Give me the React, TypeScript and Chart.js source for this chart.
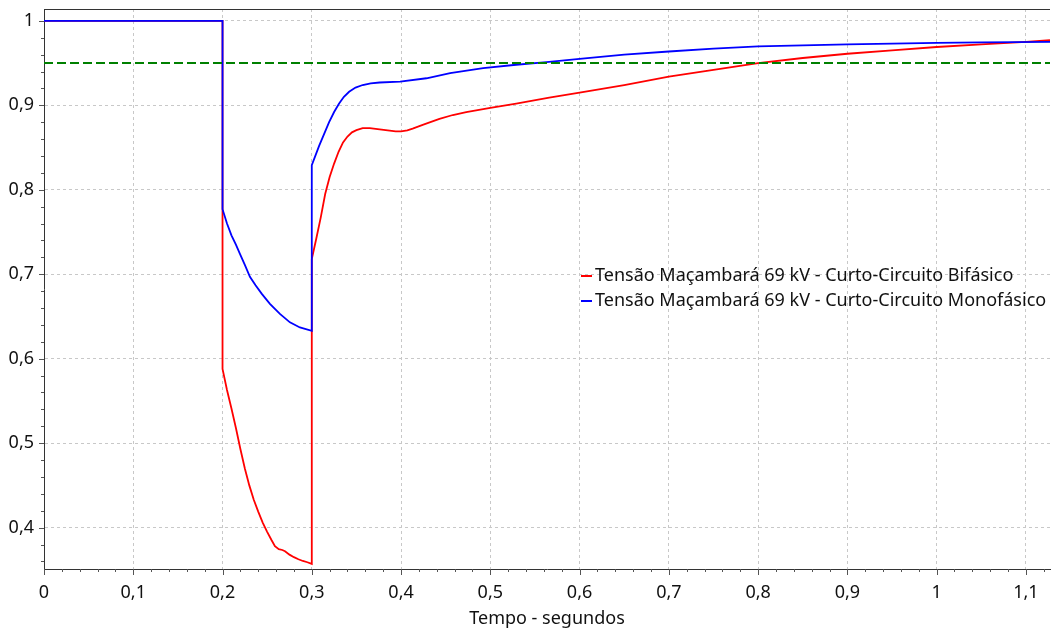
import React, { useEffect, useRef } from "react";
import { Chart, registerables } from "chart.js";

Chart.register(...registerables);

// ---------- data ----------
const bifasicoTime = [
  0, 0.2, 0.2, 0.2, 0.205, 0.21, 0.215, 0.22, 0.225, 0.23, 0.235, 0.24, 0.245, 0.25,
  0.255, 0.2587, 0.263, 0.267, 0.27, 0.275, 0.28, 0.285, 0.29, 0.295, 0.3,
  0.3, 0.305, 0.31, 0.315, 0.32, 0.325, 0.33, 0.335, 0.34, 0.345, 0.35, 0.357, 0.365,
  0.376, 0.385, 0.394, 0.4, 0.407, 0.413, 0.425, 0.443, 0.458, 0.473, 0.5, 0.529, 0.566, 0.6, 0.65,
  0.7, 0.75, 0.8, 0.85, 0.9, 0.95, 1.0, 1.05, 1.1, 1.127,
];
const bifasicoVolt = [
  1.0, 1.0, 0.78, 0.588, 0.563, 0.541, 0.518, 0.493, 0.47, 0.45, 0.433, 0.419, 0.406, 0.395,
  0.385, 0.378, 0.3745, 0.3735, 0.372, 0.368, 0.365, 0.3625, 0.3605, 0.359, 0.357,
  0.718, 0.742, 0.767, 0.795, 0.815, 0.831, 0.845, 0.856, 0.863, 0.868, 0.8705, 0.873, 0.873,
  0.8715, 0.8703, 0.869, 0.869, 0.8703, 0.8724, 0.877, 0.884, 0.8885, 0.892, 0.897, 0.902, 0.909, 0.915, 0.924,
  0.934, 0.942, 0.95, 0.956, 0.961, 0.965, 0.969, 0.972, 0.975, 0.977,
];

const monofasicoTime = [
  0, 0.2, 0.2, 0.205, 0.21, 0.215, 0.2195, 0.225, 0.2307, 0.237, 0.2438, 0.2531, 0.2643,
  0.2755, 0.2867, 0.3, 0.3, 0.3082, 0.3194, 0.325, 0.3306, 0.336, 0.3418, 0.349, 0.357, 0.366,
  0.376, 0.399, 0.4285, 0.455, 0.492, 0.529, 0.563, 0.6, 0.65, 0.7, 0.75, 0.8, 0.85, 0.9,
  0.95, 1.0, 1.05, 1.127,
];
const monofasicoVolt = [
  1.0, 1.0, 0.777, 0.76, 0.746, 0.735, 0.724, 0.711, 0.697, 0.687, 0.677, 0.665, 0.653,
  0.643, 0.637, 0.633, 0.829, 0.852, 0.88, 0.892, 0.902, 0.91, 0.916, 0.921, 0.924, 0.926,
  0.927, 0.928, 0.932, 0.938, 0.944, 0.948, 0.951, 0.955, 0.96, 0.9637, 0.967, 0.9697, 0.971, 0.972,
  0.973, 0.974, 0.9745, 0.975,
];

const limitTime = [0, 1.127];
const limitVolt = [0.95, 0.95];

const seriesLabels = [
  "Tensão Maçambará 69 kV - Curto-Circuito Bifásico",
  "Tensão Maçambará 69 kV - Curto-Circuito Monofásico",
];
const seriesColors = ["#ff0000", "#0000ff"];
const limitColor = "#008000";
const xTitle = "Tempo - segundos";

const xMin = 0;
const xMax = 1.127;
const yMin = 0.351;
const yMax = 1.014;
const minorStep = 0.02;

const FONT = "'Noto Sans', 'Open Sans', sans-serif";
const FONT_SIZE = 18;

// ---------- helpers ----------
const isMajor = (v: number) => Math.abs(v * 10 - Math.round(v * 10)) < 1e-6;
const fmt = (v: number) => String(Math.round(v * 10) / 10).replace(".", ",");
const toPoints = (xs: number[], ys: number[]) => xs.map((x, i) => ({ x, y: ys[i] }));

const buildMinorTicks = (scale: any) => {
  const ticks: { value: number }[] = [];
  const start = Math.ceil(scale.min / minorStep - 1e-9);
  for (let i = start; i * minorStep <= scale.max + 1e-9; i++) {
    ticks.push({ value: Math.round(i * minorStep * 10000) / 10000 });
  }
  scale.ticks = ticks;
};

const gridColor = (ctx: any) =>
  ctx.tick && isMajor(ctx.tick.value) ? "#c8c8c8" : "rgba(0,0,0,0)";

const decorPlugin = {
  id: "decor",
  afterDraw(chart: any) {
    const { ctx, chartArea } = chart;
    const xs = chart.scales.x;
    const ys = chart.scales.y;
    ctx.save();
    ctx.strokeStyle = "#333333";
    ctx.lineWidth = 1;
    // top frame line
    ctx.beginPath();
    ctx.moveTo(chartArea.left, chartArea.top + 0.5);
    ctx.lineTo(chartArea.right, chartArea.top + 0.5);
    ctx.stroke();
    // tick marks
    ctx.strokeStyle = "#555555";
    xs.ticks.forEach((t: any) => {
      const p = Math.round(xs.getPixelForValue(t.value)) + 0.5;
      const len = isMajor(t.value) ? 6 : 3;
      ctx.beginPath();
      ctx.moveTo(p, chartArea.bottom);
      ctx.lineTo(p, chartArea.bottom + len);
      ctx.stroke();
    });
    ys.ticks.forEach((t: any) => {
      const p = Math.round(ys.getPixelForValue(t.value)) + 0.5;
      const len = isMajor(t.value) ? 5 : 3;
      ctx.beginPath();
      ctx.moveTo(chartArea.left - len, p);
      ctx.lineTo(chartArea.left, p);
      ctx.stroke();
    });
    // legend
    const lx = chartArea.left + 537;
    const ly = chartArea.top + 267;
    ctx.font = `${FONT_SIZE}px ${FONT}`;
    ctx.textBaseline = "middle";
    ctx.textAlign = "left";
    seriesLabels.forEach((label, i) => {
      const y = ly + i * 25;
      ctx.strokeStyle = seriesColors[i];
      ctx.lineWidth = 2;
      ctx.beginPath();
      ctx.moveTo(lx, y);
      ctx.lineTo(lx + 11, y);
      ctx.stroke();
      ctx.fillStyle = "#111111";
      ctx.fillText(label, lx + 14, y);
    });
    ctx.restore();
  },
};

export default function App() {
  const canvasRef = useRef<HTMLCanvasElement | null>(null);

  useEffect(() => {
    if (!canvasRef.current) return;
    const chart = new Chart(canvasRef.current, {
      type: "line",
      data: {
        datasets: [
          {
            label: "Limite",
            data: toPoints(limitTime, limitVolt),
            borderColor: limitColor,
            borderWidth: 2,
            borderDash: [9, 4],
            pointRadius: 0,
            tension: 0,
          },
          {
            label: seriesLabels[1],
            data: toPoints(monofasicoTime, monofasicoVolt),
            borderColor: seriesColors[1],
            borderWidth: 1.8,
            pointRadius: 0,
            tension: 0,
          },
          {
            label: seriesLabels[0],
            data: toPoints(bifasicoTime, bifasicoVolt),
            borderColor: seriesColors[0],
            borderWidth: 1.8,
            pointRadius: 0,
            tension: 0,
          },
        ],
      },
      options: {
        responsive: false,
        animation: false,
        layout: { padding: { top: 9, right: 1, left: 0, bottom: 0 } },
        plugins: {
          legend: { display: false },
          tooltip: { enabled: false },
        },
        scales: {
          x: {
            type: "linear",
            min: xMin,
            max: xMax,
            bounds: "data",
            afterBuildTicks: buildMinorTicks,
            afterFit: (scale: any) => {
              scale.height = 62;
              scale.paddingLeft = 0;
              scale.paddingRight = 0;
            },
            grid: { color: gridColor, drawTicks: false, lineWidth: 1 },
            border: { display: true, color: "#333333", width: 1, dash: [3, 3] },
            ticks: {
              autoSkip: false,
              maxRotation: 0,
              minRotation: 0,
              padding: 13,
              color: "#111111",
              font: { family: FONT, size: FONT_SIZE },
              callback: (v: any) => (isMajor(Number(v)) ? fmt(Number(v)) : ""),
            },
            title: {
              display: true,
              text: xTitle,
              color: "#111111",
              font: { family: FONT, size: FONT_SIZE },
              padding: { top: 0, bottom: 1 },
            },
          },
          y: {
            type: "linear",
            min: yMin,
            max: yMax,
            bounds: "data",
            afterBuildTicks: buildMinorTicks,
            afterFit: (scale: any) => {
              scale.width = 44;
              scale.paddingTop = 0;
              scale.paddingBottom = 0;
            },
            grid: { color: gridColor, drawTicks: false, lineWidth: 1 },
            border: { display: true, color: "#333333", width: 1, dash: [3, 3] },
            ticks: {
              autoSkip: false,
              padding: 10,
              color: "#111111",
              font: { family: FONT, size: FONT_SIZE },
              callback: (v: any) => (isMajor(Number(v)) ? fmt(Number(v)) : ""),
            },
          },
        },
      },
      plugins: [decorPlugin],
    });
    return () => chart.destroy();
  }, []);

  return (
    <div style={{ position: "absolute", left: 0, top: 0, width: 1051, height: 631, background: "#ffffff" }}>
      <canvas ref={canvasRef} width={1051} height={631} style={{ display: "block" }} />
    </div>
  );
}
